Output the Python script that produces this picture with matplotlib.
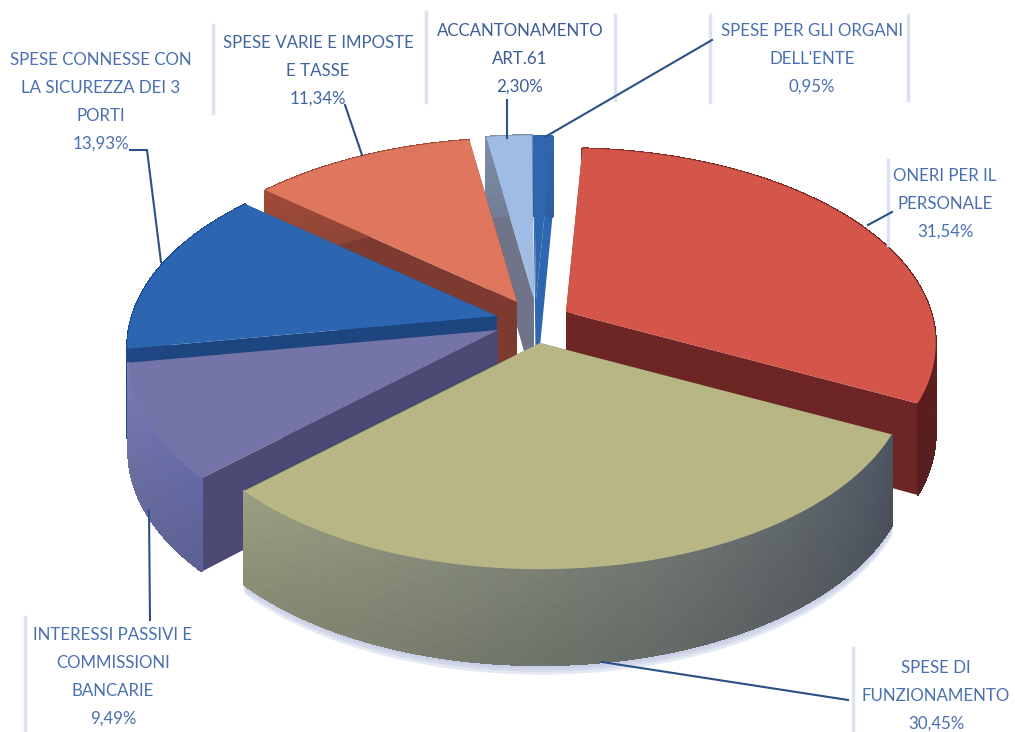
import numpy as np
from matplotlib import pyplot as plt
from matplotlib.patches import Polygon
from matplotlib.colors import to_rgb

labels = ["ONERI PER IL\nPERSONALE\n31,54%", "SPESE DI\nFUNZIONAMENTO\n30,45%",
          "INTERESSI PASSIVI E\nCOMMISSIONI\nBANCARIE\n9,49%",
          "SPESE CONNESSE CON\nLA SICUREZZA DEI 3\nPORTI\n13,93%",
          "SPESE VARIE E IMPOSTE\nE TASSE\n11,34%", "ACCANTONAMENTO\nART.61\n2,30%",
          "SPESE PER GLI ORGANI\nDELL'ENTE\n0,95%"]
values = [31.54, 30.45, 9.49, 13.93, 11.34, 2.30, 0.95]

# apex of every exploded slice, pixels
apex = [(566, 312), (540, 343), (498, 330), (497, 316), (517, 302), (534, 299), (536, 300)]
top_col = ["#d4564a", "#b7b684", "#7474a8", "#2d66b0", "#df765e", "#9fbde4", "#2f66b0"]
wall_col = ["#6e2624", "#6c6c50", "#4c4a72", "#1d4580", "#7c3a30", "#6f7488", "#2f66b0"]
rim_a = ["#8a3028", "#4c5462", "#6468a4", "#1d4a90", "#a04a38", "#7d8ca8", "#2f66b0"]
rim_b = ["#5a1c1c", "#9a9e80", "#7a7cb4", "#1d4a90", "#a04a38", "#7d8ca8", "#2f66b0"]
draw_order = [6, 5, 4, 3, 2, 0, 1]

label_xy = [(945, 204), (936, 696), (113, 677), (101, 102), (318, 71), (520, 59), (812, 59)]
label_col = ["#4a6fb0", "#4a6fb0", "#4a6fb0", "#4a6fb0", "#41659f", "#3a5c98", "#4a6fb0"]
leaders = [[(892, 212), (868, 225)], [(848, 700), (602, 662)], [(150, 620), (149, 510)],
           [(130, 150), (147, 150), (161, 262)], [(345, 105), (362, 155)],
           [(507, 100), (507, 138)], [(712, 40), (545, 137)]]
box_lines = [(888, 160, 245), (853, 648, 732), (25, 617, 732), (213, 25, 113),
             (426, 12, 102), (710, 15, 102), (615, 15, 100), (908, 15, 100)]

RX = 365
RY = 190
PERSP = 0.16
DEPTH = 88
START = 3.0


def disk(theta, ap):
    s = -np.cos(theta)
    w = 1 - PERSP * s
    return np.c_[ap[0] + RX * np.sin(theta) / w, ap[1] + RY * s / w]


def rim_depth(theta):
    return DEPTH * (1 - 0.09 * np.cos(theta))


def blend(a, b, f):
    a, b = np.array(to_rgb(a)), np.array(to_rgb(b))
    return tuple(a + (b - a) * f)


fig = plt.figure(figsize=(10.15, 7.32), dpi=100)
ax = fig.add_axes([0, 0, 1, 1])
ax.set_xlim(0, 1015)
ax.set_ylim(732, 0)
ax.axis("off")

edges = np.radians(START + np.cumsum([0] + values) * 3.6)

# soft shadow under the front slice
th = np.linspace(edges[1], edges[2], 60)
low = disk(th, apex[1])
low[:, 1] += rim_depth(th)
for off in (9, 6, 3):
    ax.fill_between(low[:, 0], low[:, 1] - 30, low[:, 1] + off,
                    color="#b4bede", alpha=0.35, lw=0, zorder=0.5)

for i in draw_order:
    ap = apex[i]
    th = np.linspace(edges[i], edges[i + 1], max(int(values[i] * 4), 6))
    rim = disk(th, ap)
    dz = rim_depth(th)
    # radial walls
    for t in (th[0], th[-1]):
        p = disk(np.array([t]), ap)[0]
        ax.add_patch(Polygon([ap, p, (p[0], p[1] + rim_depth(t)), (ap[0], ap[1] + DEPTH)],
                             fc=wall_col[i], ec="none"))
    # outer rim as strips, shaded along the arc and downwards
    for k in range(len(th) - 1):
        f = k / (len(th) - 2)
        for j in range(8):
            c = blend(blend(rim_a[i], rim_b[i], f), "#303030", j * 0.02)
            a0, a1 = j / 8, (j + 1) / 8
            ax.add_patch(Polygon([rim[k] + (0, dz[k] * a0), rim[k + 1] + (0, dz[k + 1] * a0),
                                  rim[k + 1] + (0, dz[k + 1] * a1), rim[k] + (0, dz[k] * a1)],
                                 fc=c, ec=c, lw=0.8, antialiased=False))
    ax.add_patch(Polygon(np.vstack([ap, rim]), fc=top_col[i], ec="none"))

for x0, y0, y1 in box_lines:
    ax.plot([x0, x0], [y0, y1], color="#dbe3f0", lw=2.5, zorder=1)

for pts in leaders:
    ax.plot(*zip(*pts), color="#2c4f86", lw=1.5, zorder=5)

for txt, (x, y), col in zip(labels, label_xy, label_col):
    ax.text(x, y, txt, ha="center", va="center", fontsize=12.2, family="Lato",
            color=col, linespacing=1.9, zorder=6)

fig.savefig("out.png", dpi=100)
